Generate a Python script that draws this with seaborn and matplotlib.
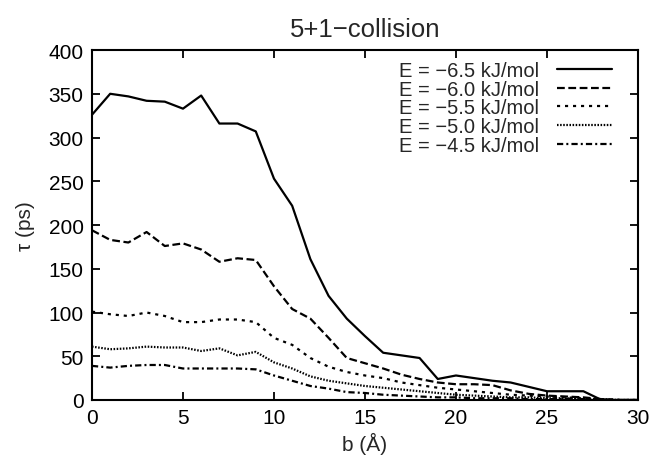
import pandas as pd
import numpy as np
import matplotlib
matplotlib.use("Agg")
import matplotlib.pyplot as plt
import seaborn as sns

# impact parameter b (Angstrom)
b_values = list(range(0, 31))

# lifetime tau (ps) per collision energy
tau_m65 = [326, 350, 347, 342, 341, 333, 348, 316, 316, 307, 253, 222, 161, 119, 93, 73,
           54, 51, 48, 24, 28, 25, 22, 20, 15, 10, 10, 10, 0, 0, 0]
tau_m60 = [194, 183, 180, 192, 176, 179, 172, 158, 162, 160, 130, 104, 93, 71, 48, 42,
           36, 29, 24, 20, 18, 18, 17, 11, 7, 5, 4, 3, 1, 0, 0]
tau_m55 = [101, 98, 96, 100, 96, 89, 89, 92, 92, 89, 71, 63, 48, 38, 32, 28,
           25, 20, 17, 14, 12, 10, 8, 6, 5, 4, 3, 2, 1, 0, 0]
tau_m50 = [61, 58, 59, 61, 60, 60, 56, 59, 51, 55, 43, 36, 27, 22, 19, 16,
           14, 12, 10, 8, 6, 5, 4, 3, 3, 2, 2, 1, 1, 0, 0]
tau_m45 = [39, 37, 39, 40, 40, 36, 36, 36, 36, 35, 28, 22, 16, 13, 9, 8,
           6, 5, 4, 3, 3, 2, 2, 2, 1, 1, 1, 1, 0, 0, 0]

labels = ["E = \u22126.5 kJ/mol", "E = \u22126.0 kJ/mol", "E = \u22125.5 kJ/mol",
          "E = \u22125.0 kJ/mol", "E = \u22124.5 kJ/mol"]
series = [tau_m65, tau_m60, tau_m55, tau_m50, tau_m45]

frames = []
for lab, vals in zip(labels, series):
    frames.append(pd.DataFrame({"b": b_values, "tau": vals, "E": lab}))
df = pd.concat(frames, ignore_index=True)

sns.set_style("ticks")
plt.rcParams["font.family"] = ["Liberation Sans", "DejaVu Sans"]

dash_map = {
    labels[0]: "",
    labels[1]: (3.5, 1.6),
    labels[2]: (1.4, 2.2),
    labels[3]: (0.7, 0.7),
    labels[4]: (2.8, 1.4, 0.9, 1.4),
}

fig, ax = plt.subplots(figsize=(6.5, 4.64), dpi=100)
fig.subplots_adjust(left=0.1415, right=0.9815, bottom=0.1358, top=0.890)

sns.lineplot(data=df, x="b", y="tau", style="E", style_order=labels,
             dashes=dash_map, color="black", linewidth=1.6, ax=ax)

ax.set_xlim(0, 30)
ax.set_ylim(0, 400)
ax.set_xticks(range(0, 31, 5))
ax.set_yticks(range(0, 401, 50))
ax.tick_params(direction="in", length=6, width=1.3, top=True, right=True,
               labelsize=15, pad=6, colors="black")
for sp in ax.spines.values():
    sp.set_linewidth(1.5)
    sp.set_color("black")

ax.set_title("5+1\u2212collision", fontsize=18.5, pad=10)
ax.set_xlabel("b (\u00c5)", fontsize=15, labelpad=3)
ax.set_ylabel("\u03c4 (ps)", fontsize=15, labelpad=10)

handles, labs = ax.get_legend_handles_labels()
ax.legend(handles, labs, loc="upper right", bbox_to_anchor=(0.952, 0.968),
          frameon=False, markerfirst=False, fontsize=14.5, handlelength=2.7,
          handletextpad=0.9, labelspacing=-0.02, borderpad=0, borderaxespad=0)

fig.savefig("out.png", dpi=100)
